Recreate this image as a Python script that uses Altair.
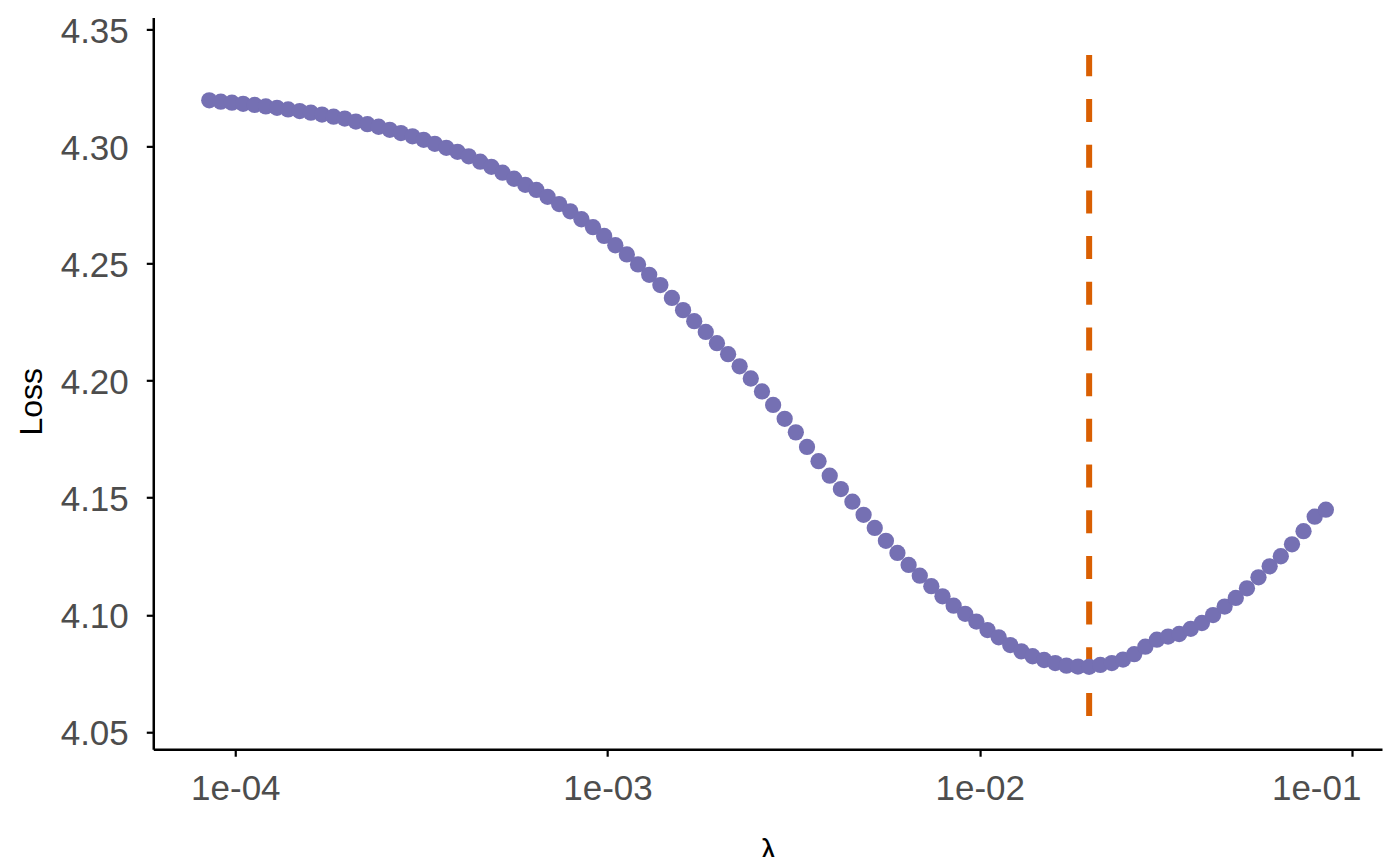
import math
import altair as alt
import pandas as pd

# log10(lambda) for each of the 100 points on the path
log_lambda = [
    -4.070, -4.039, -4.009, -3.979, -3.948, -3.918, -3.888, -3.858, -3.827, -3.797,
    -3.767, -3.736, -3.706, -3.676, -3.645, -3.615, -3.585, -3.555, -3.524, -3.494,
    -3.464, -3.433, -3.403, -3.373, -3.342, -3.312, -3.282, -3.251, -3.221, -3.191,
    -3.161, -3.130, -3.100, -3.070, -3.039, -3.009, -2.979, -2.948, -2.918, -2.888,
    -2.858, -2.827, -2.797, -2.767, -2.736, -2.706, -2.676, -2.645, -2.615, -2.585,
    -2.555, -2.524, -2.494, -2.464, -2.433, -2.403, -2.373, -2.342, -2.312, -2.282,
    -2.252, -2.221, -2.191, -2.161, -2.130, -2.100, -2.070, -2.039, -2.009, -1.979,
    -1.949, -1.918, -1.888, -1.858, -1.827, -1.797, -1.767, -1.736, -1.706, -1.676,
    -1.645, -1.615, -1.585, -1.555, -1.524, -1.494, -1.464, -1.433, -1.403, -1.373,
    -1.342, -1.312, -1.282, -1.251, -1.221, -1.191, -1.161, -1.130, -1.100, -1.070,
]

loss = [
    4.3197, 4.3191, 4.3187, 4.3182, 4.3177, 4.3171, 4.3165, 4.3158, 4.3151, 4.3144,
    4.3136, 4.3127, 4.3119, 4.3106, 4.3095, 4.3084, 4.3071, 4.3057, 4.3043, 4.3028,
    4.3011, 4.2994, 4.2977, 4.2958, 4.2935, 4.2913, 4.2888, 4.2862, 4.2836, 4.2814,
    4.2785, 4.2754, 4.2723, 4.2689, 4.2655, 4.2618, 4.2578, 4.2539, 4.2496, 4.2452,
    4.2408, 4.2353, 4.2301, 4.2254, 4.2208, 4.2160, 4.2113, 4.2061, 4.2009, 4.1954,
    4.1896, 4.1837, 4.1779, 4.1717, 4.1656, 4.1594, 4.1537, 4.1483, 4.1427, 4.1371,
    4.1316, 4.1264, 4.1213, 4.1167, 4.1122, 4.1079, 4.1039, 4.1004, 4.0971, 4.0935,
    4.0904, 4.0871, 4.0844, 4.0823, 4.0807, 4.0794, 4.0783, 4.0779, 4.0778, 4.0786,
    4.0794, 4.0809, 4.0832, 4.0864, 4.0894, 4.0907, 4.0918, 4.0940, 4.0965, 4.0999,
    4.1035, 4.1072, 4.1113, 4.1160, 4.1207, 4.1250, 4.1301, 4.1357, 4.1419, 4.1449,
]

# selected lambda (dashed marker) and its vertical extent
best_lambda = [0.01968]
best_y_from = [4.0568]
best_y_to = [4.3390]

x_tick_values = [1e-4, 1e-3, 1e-2, 1e-1]
x_tick_labels = ["1e-04", "1e-03", "1e-02", "1e-01"]
y_tick_values = [4.05, 4.10, 4.15, 4.20, 4.25, 4.30, 4.35]

df = pd.DataFrame({"lam": [10 ** v for v in log_lambda], "loss": loss})
vline = pd.DataFrame({"lam": best_lambda, "y": best_y_from, "y2": best_y_to})

label_expr = " : ".join(
    f"abs(log(datum.value)/LN10 - ({math.log10(v):.4f})) < 0.01 ? '{lab}'"
    for v, lab in zip(x_tick_values, x_tick_labels)
) + " : ''"

FONT = "Liberation Sans"

x_scale = alt.Scale(type="log", domain=[6.02e-5, 0.12046], nice=False)
y_scale = alt.Scale(domain=[4.0426, 4.3551], nice=False, zero=False)

x_axis = alt.Axis(
    title="λ", values=x_tick_values, labelExpr=label_expr, labelPadding=15,
    labelFlush=40, labelFlushOffset=9,
    titleBaseline="top", titleY=86, titleAnchor="middle",
)
y_axis = alt.Axis(
    title="Loss", values=y_tick_values, format=".2f", labelPadding=18, labelOffset=2,
    titleAngle=270, titleAlign="center", titleBaseline="middle",
    titleX=-122, titleY=384,
)

points = alt.Chart(df).mark_circle(size=265, color="#7570B3", opacity=1).encode(
    x=alt.X("lam:Q", scale=x_scale, axis=x_axis),
    y=alt.Y("loss:Q", scale=y_scale, axis=y_axis),
)

rule = alt.Chart(vline).mark_rule(
    color="#D95F02", strokeWidth=6, strokeDash=[23, 22.7], strokeCap="butt"
).encode(
    x=alt.X("lam:Q", scale=x_scale),
    y=alt.Y("y:Q", scale=y_scale),
    y2="y2:Q",
)

chart = (
    alt.layer(rule, points)
    .properties(
        width=1229, height=732,
        autosize=alt.AutoSizeParams(type="none"),
        padding={"left": 145.3, "top": 9.3, "right": 10, "bottom": 107.7},
        background="white",
    )
    .configure_view(stroke=None)
    .configure_axis(
        grid=False,
        domainColor="black", domainWidth=2.5,
        tickColor="black", tickWidth=2.2, tickSize=7,
        labelFont=FONT, labelFontSize=35, labelColor="#4D4D4D",
        titleFont=FONT, titleFontSize=32, titleColor="black", titleFontWeight="normal",
    )
)

chart.save("out.html", embed_options={"renderer": "svg", "actions": False})
